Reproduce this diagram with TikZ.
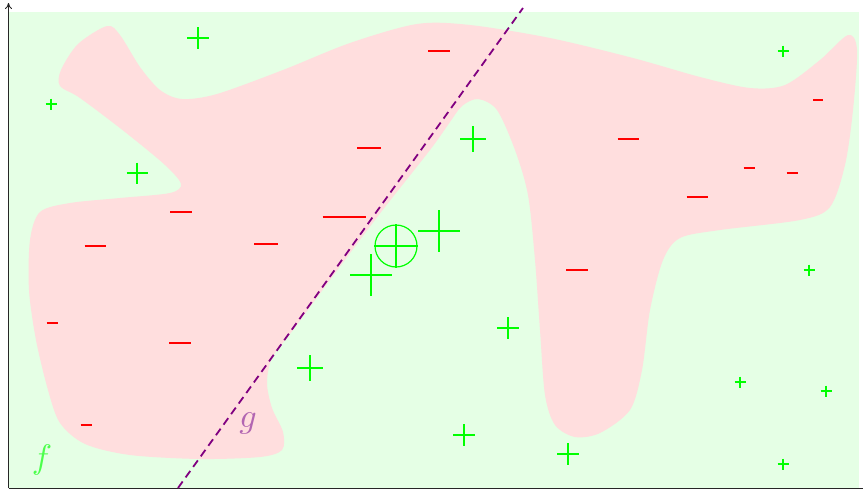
\documentclass[tikz,border=0pt]{standalone}
\usetikzlibrary{arrows.meta}

\begin{document}
\begin{tikzpicture}[
    x=1pt, y=-1pt,
    plusline/.style={draw=green, line width=1.2pt},
    minusline/.style={draw=red, line width=1.2pt},
    pics/plusmark/.style={code={\draw[plusline] (-#1,0) -- (#1,0) (0,-#1) -- (0,#1);}},
    pics/minusmark/.style={code={\draw[minusline] (-#1,0) -- (#1,0);}},
    axis/.style={draw=black!85, line width=1pt, -{To[length=6pt, width=7pt]}},
    boundary/.style={draw=violet, line width=1.8pt, dash pattern=on 8pt off 5pt},
    label/.style={scale=3.4, inner sep=0pt}
]
    \useasboundingbox (0,0) rectangle (863,493);

    % Domain of f
    \fill[green!10] (8,12) rectangle (859,488);

    % Negative region
    \fill[red!13] plot[smooth cycle, tension=0.5] coordinates {
        (61,70) (78,44) (107,26) (120,35) (140,67) (160,90) (182,99)
        (217,94) (283,70) (350,43) (417,24) (470,25) (550,38) (633,58)
        (700,77) (750,88) (785,85) (820,60) (848,35) (857,50) (853,110)
        (845,165) (830,207) (800,220) (720,230) (680,238) (663,260)
        (650,310) (642,370) (630,410) (600,433) (575,437) (555,425)
        (545,395) (540,330) (535,260) (528,195) (515,150) (497,110)
        (478,99) (462,106) (450,122) (430,150) (378,216) (330,280)
        (293,330) (272,358) (267,383) (272,408) (283,432) (282,450)
        (260,457) (200,459) (130,455) (85,444) (60,423) (48,390)
        (36,340) (29,290) (30,240) (40,212) (70,203) (120,198)
        (170,193) (181,184) (165,165) (125,132) (80,98) (60,86)};

    % Axes
    \coordinate (origin) at (8.5,488);
    \coordinate (xend) at (869,488);
    \coordinate (yend) at (8.5,3);
    \draw[axis] (origin) -- (xend);
    \draw[axis] (origin) -- (yend);

    % Positive samples
    \pic at (198,38) {plusmark=11};
    \pic at (51,104) {plusmark=5.5};
    \pic at (137,173) {plusmark=10.5};
    \pic at (473,139) {plusmark=13};
    \pic at (439,231) {plusmark=21};
    \pic at (371,275) {plusmark=21};
    \pic at (508,328) {plusmark=11};
    \pic at (310,368) {plusmark=13};
    \pic at (464,435) {plusmark=11};
    \pic at (568,454) {plusmark=11};
    \pic at (783,51) {plusmark=5.5};
    \pic at (809,270) {plusmark=5.5};
    \pic at (740,382) {plusmark=5.5};
    \pic at (826,391) {plusmark=5.5};
    \pic at (783,464) {plusmark=5.5};

    % Negative samples
    \pic at (439,51) {minusmark=11};
    \pic at (369,148) {minusmark=12};
    \pic at (181,212) {minusmark=11};
    \pic at (95,246) {minusmark=10.5};
    \pic at (266,244) {minusmark=12};
    \pic at (344,217) {minusmark=21.5};
    \pic at (52,323) {minusmark=5.5};
    \pic at (180,343) {minusmark=11};
    \pic at (86,425) {minusmark=5.5};
    \pic at (628,139) {minusmark=10.5};
    \pic at (577,270) {minusmark=11};
    \pic at (697,197) {minusmark=10.5};
    \pic at (749,168) {minusmark=5.5};
    \pic at (792,173) {minusmark=5.5};
    \pic at (818,100) {minusmark=5};

    % Circled sample
    \node[circle, draw=green, line width=1.2pt, minimum size=42pt, inner sep=0pt] (query) at (396,246) {};
    \draw[plusline, line width=1.6pt] (query.west) -- (query.east);
    \draw[plusline] (query.north) -- (query.south);

    % Separator g
    \coordinate (gbot) at (178,488);
    \coordinate (gtop) at (523,8);
    \draw[boundary] (gbot) -- (gtop);

    % Labels
    \node[label, text=green!70] (flabel) at (42,460) {$f$};
    \node[label, text=violet!60] (glabel) at (248,423) {$g$};

\end{tikzpicture}
\end{document}
